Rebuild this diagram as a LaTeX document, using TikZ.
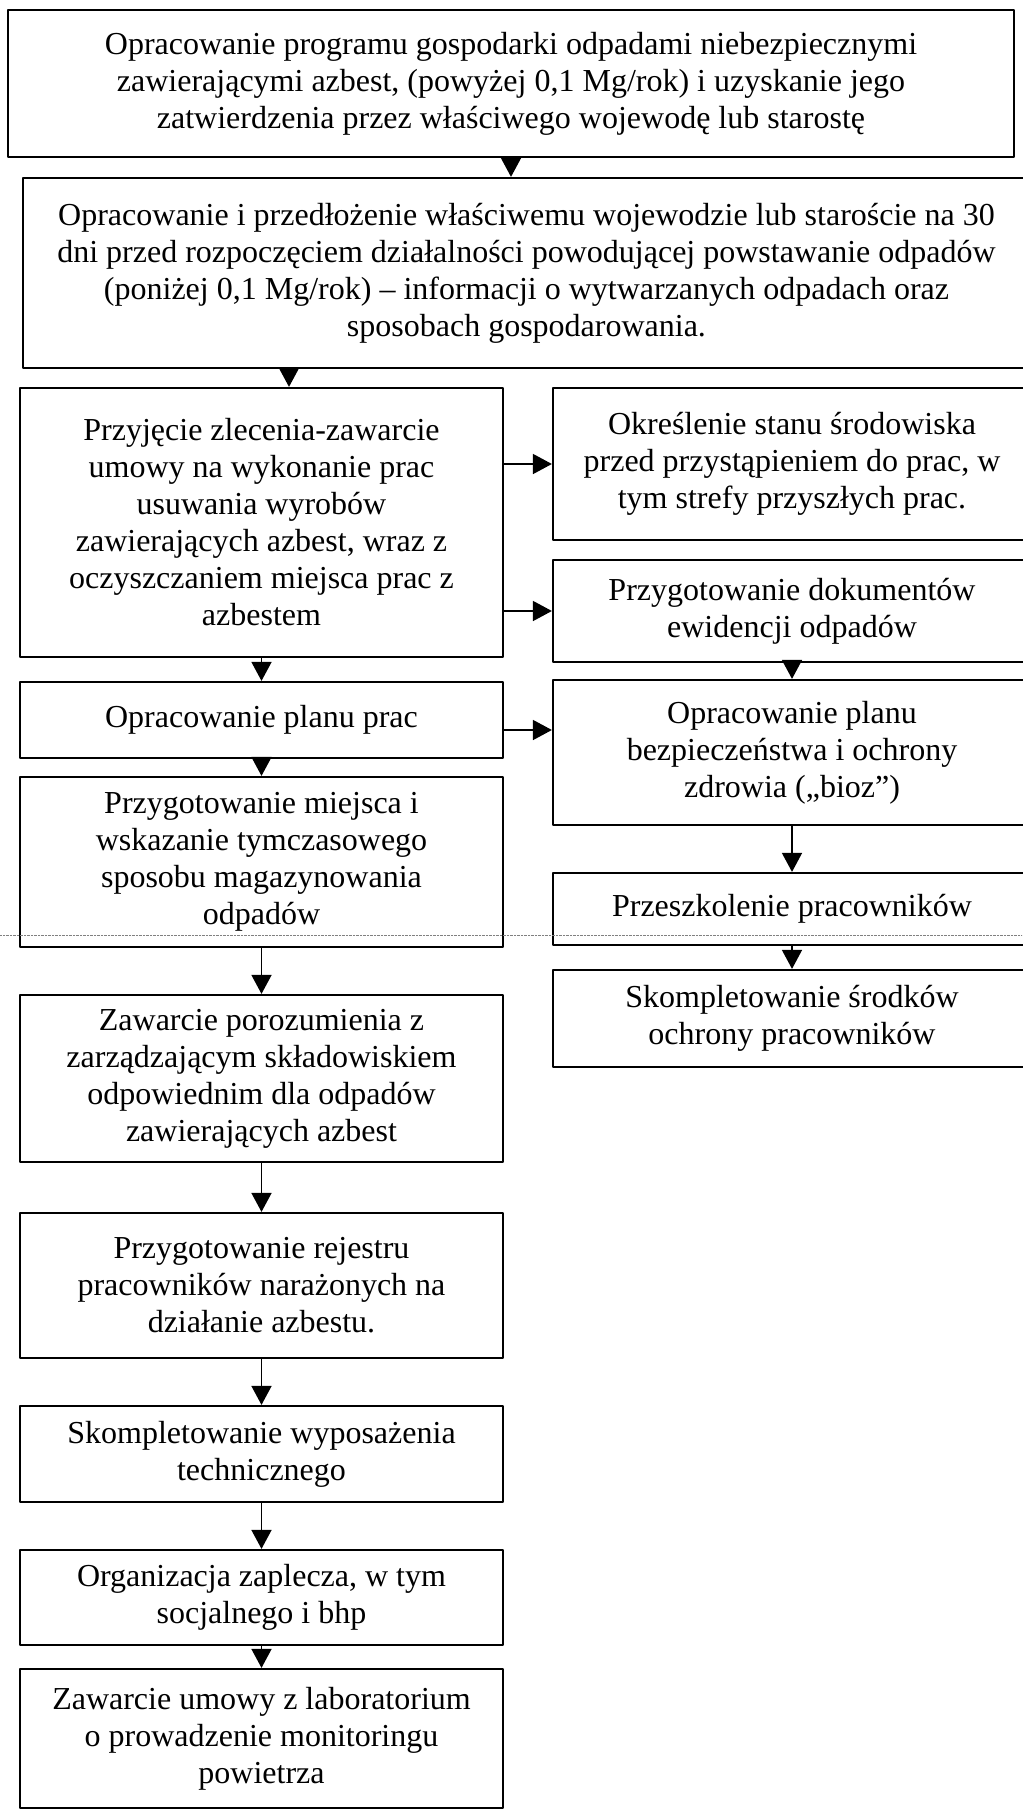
\documentclass[tikz,border=0pt]{standalone}
\usepackage{fontspec}
\setmainfont{Liberation Serif}
\usetikzlibrary{arrows.meta}
\begin{document}
\begin{tikzpicture}[x=1pt, y=-1pt, font=\fontsize{32}{37}\selectfont, line join=round, >={Triangle[width=20pt,length=19pt]},
  box/.style={draw, line width=2.2pt, inner sep=0pt, align=center},
  lcol/.style={box, minimum width=483pt},
  rcol/.style={box, minimum width=478pt},
  arr/.style={->, line width=1.6pt}]
\useasboundingbox (0,0) rectangle (1022,1811);
\node[box, minimum width=1006pt, minimum height=147pt] (A) at (511,83.5) {Opracowanie programu gospodarki odpadami niebezpiecznymi\\ zawierającymi azbest, (powyżej 0,1 Mg/rok) i uzyskanie jego\\ zatwierdzenia przez właściwego wojewodę lub starostę};
\node[box, minimum width=1007pt, minimum height=190pt] (B) at (526.5,273) {Opracowanie i przedłożenie właściwemu wojewodzie lub staroście na 30\\ dni przed rozpoczęciem działalności powodującej powstawanie odpadów\\ (poniżej 0,1 Mg/rok) – informacji o wytwarzanych odpadach oraz\\ sposobach gospodarowania.};
\node[lcol, minimum height=269pt] (C) at (261.5,522.5) {Przyjęcie zlecenia-zawarcie\\ umowy na wykonanie prac\\ usuwania wyrobów\\ zawierających azbest, wraz z\\ oczyszczaniem miejsca prac z\\ azbestem};
\node[rcol, minimum height=152pt] (D) at (792,464) {Określenie stanu środowiska\\ przed przystąpieniem do prac, w\\ tym strefy przyszłych prac.};
\node[rcol, minimum height=102pt] (E) at (792,611) {Przygotowanie dokumentów\\ ewidencji odpadów};
\node[lcol, minimum height=76pt] (F) at (261.5,720) {Opracowanie planu prac};
\node[rcol, minimum height=145pt] (G) at (792,752.5) {Opracowanie planu\\ bezpieczeństwa i ochrony\\ zdrowia („bioz”)};
\node[lcol, minimum height=170pt] (H) at (261.5,862) {Przygotowanie miejsca i\\ wskazanie tymczasowego\\ sposobu magazynowania\\ odpadów};
\node[rcol, minimum height=72pt] (I) at (792,909) {Przeszkolenie pracowników};
\node[rcol, minimum height=97pt] (J) at (792,1018.5) {Skompletowanie środków\\ ochrony pracowników};
\node[lcol, minimum height=167pt] (K) at (261.5,1078.5) {Zawarcie porozumienia z\\ zarządzającym składowiskiem\\ odpowiednim dla odpadów\\ zawierających azbest};
\node[lcol, minimum height=145pt] (L) at (261.5,1285.5) {Przygotowanie rejestru\\ pracowników narażonych na\\ działanie azbestu.};
\node[lcol, minimum height=96pt] (M) at (261.5,1454) {Skompletowanie wyposażenia\\ technicznego};
\node[lcol, minimum height=95pt] (N) at (261.5,1597.5) {Organizacja zaplecza, w tym\\ socjalnego i bhp};
\node[lcol, minimum height=139pt] (O) at (261.5,1738.5) {Zawarcie umowy z laboratorium\\ o prowadzenie monitoringu\\ powietrza};
\coordinate (bc) at (289,0);
\coordinate (fg) at (0,730);
\draw[arr] (A.south) -- (A.south |- B.north);
\draw[arr] (B.south -| bc) -- (C.north -| bc);
\draw[arr] (D.west -| C.east) -- (D.west);
\draw[arr] (E.west -| C.east) -- (E.west);
\draw[arr] (C.south) -- (F.north);
\draw[arr] (E.south) -- (G.north);
\draw[arr] (F.east |- fg) -- (G.west |- fg);
\draw[arr] (F.south) -- (H.north);
\draw[arr] (G.south) -- (I.north);
\draw[arr] (I.south) -- (J.north);
\draw[arr] (H.south) -- (K.north);
\draw[arr] (K.south) -- (L.north);
\draw[arr] (L.south) -- (M.north);
\draw[arr] (M.south) -- (N.north);
\draw[arr] (N.south) -- (O.north);
\draw[gray, densely dotted] (0,935) -- (1022,935);
\end{tikzpicture}
\end{document}
